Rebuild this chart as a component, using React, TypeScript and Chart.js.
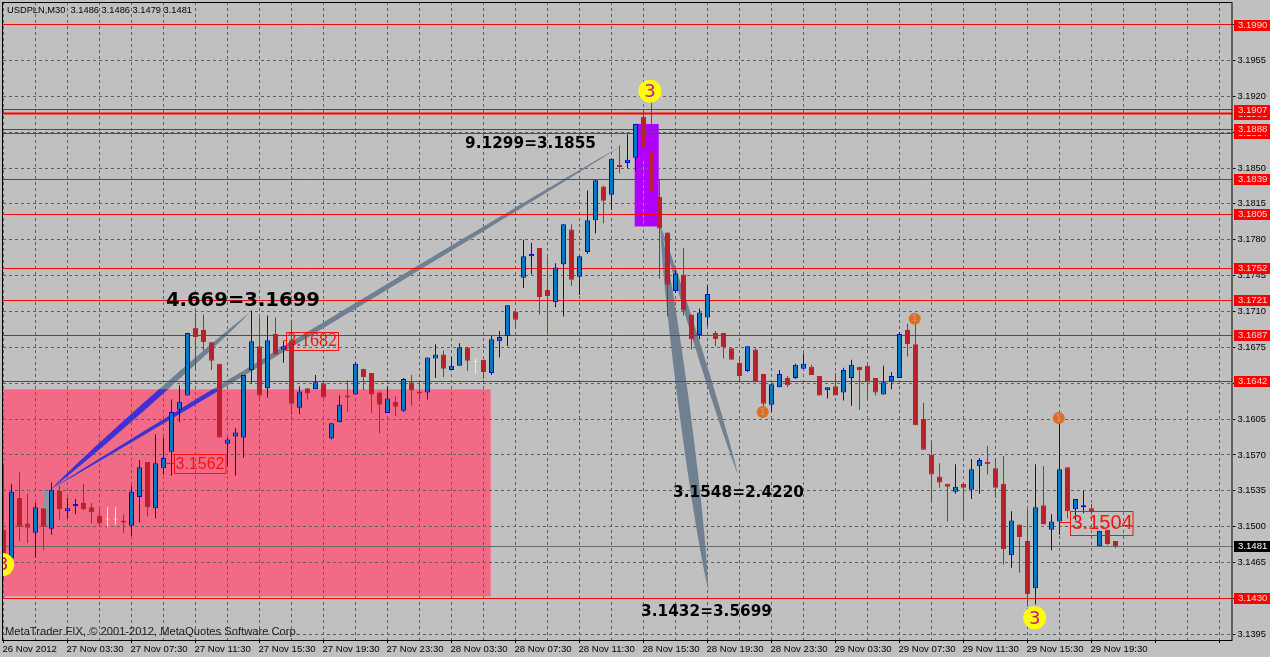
import React, { useEffect, useRef } from "react";
import { Chart, registerables } from "chart.js";

Chart.register(...registerables);

const symbolTitle = "USDPLN,M30  3.1486 3.1486 3.1479 3.1481";
const watermark = "MetaTrader FIX, © 2001-2012, MetaQuotes Software Corp.";

const opens = [
  3.1497,3.1469,3.1528,3.1503,3.1494,3.1518,3.1498,3.1535,3.1515,3.1520,
  3.1523,3.1519,3.1511,3.1507,3.1507,3.1506,3.1501,3.1529,3.1563,3.1518,
  3.1557,3.1573,3.1614,3.1628,3.1694,3.1692,3.1680,3.1659,3.1581,3.1588,
  3.1587,3.1653,3.1676,3.1635,3.1688,3.1673,3.1682,3.1616,3.1635,3.1634,
  3.1640,3.1586,3.1602,3.1628,3.1629,3.1654,3.1650,3.1631,3.1611,3.1622,
  3.1613,3.1641,3.1632,3.1631,3.1664,3.1668,3.1653,3.1657,3.1675,3.1661,
  3.1663,3.1650,3.1681,3.1686,3.1710,3.1743,3.1764,3.1772,3.1731,3.1719,
  3.1756,3.1790,3.1744,3.1768,3.1799,3.1832,3.1824,3.1853,3.1855,3.1860,
  3.1900,3.1866,3.1822,3.1787,3.1730,3.1746,3.1707,3.1687,3.1704,3.1689,
  3.1689,3.1674,3.1660,3.1652,3.1673,3.1649,3.1619,3.1636,3.1645,3.1645,
  3.1654,3.1656,3.1647,3.1633,3.1637,3.1631,3.1645,3.1656,3.1657,3.1645,
  3.1629,3.1642,3.1645,3.1692,3.1678,3.1605,3.1570,3.1549,3.1542,3.1534,
  3.1542,3.1536,3.1559,3.1563,3.1557,3.1542,3.1472,3.1502,3.1486,3.1440,
  3.1521,3.1497,3.1505,3.1558,3.1517,3.1519,3.1518,3.1481,3.1497,3.1486,
];
const closes = [
  3.1461,3.1534,3.1500,3.1499,3.1519,3.1500,3.1536,3.1517,3.1518,3.1522,
  3.1517,3.1514,3.1503,3.1507,3.1507,3.1504,3.1534,3.1558,3.1519,3.1562,
  3.1567,3.1612,3.1622,3.1689,3.1685,3.1680,3.1662,3.1587,3.1585,3.1592,
  3.1648,3.1681,3.1628,3.1682,3.1668,3.1676,3.1620,3.1632,3.1630,3.1641,
  3.1626,3.1601,3.1619,3.1626,3.1659,3.1646,3.1629,3.1619,3.1625,3.1617,
  3.1644,3.1633,3.1630,3.1665,3.1668,3.1654,3.1657,3.1675,3.1662,3.1661,
  3.1651,3.1683,3.1685,3.1716,3.1702,3.1764,3.1766,3.1724,3.1725,3.1753,
  3.1795,3.1741,3.1764,3.1799,3.1838,3.1818,3.1859,3.1851,3.1858,3.1893,
  3.1870,3.1826,3.1791,3.1736,3.1747,3.1711,3.1683,3.1709,3.1727,3.1683,
  3.1675,3.1663,3.1647,3.1676,3.1641,3.1620,3.1639,3.1649,3.1638,3.1658,
  3.1659,3.1648,3.1628,3.1636,3.1628,3.1653,3.1658,3.1653,3.1642,3.1631,
  3.1641,3.1647,3.1688,3.1678,3.1599,3.1575,3.1551,3.1543,3.1539,3.1539,
  3.1538,3.1556,3.1565,3.1561,3.1538,3.1478,3.1506,3.1490,3.1434,3.1519,
  3.1502,3.1505,3.1556,3.1515,3.1527,3.1521,3.1514,3.1496,3.1483,3.1481,
];
const highs = [
  3.1562,3.1542,3.1553,3.1532,3.1523,3.1518,3.1543,3.1540,3.1528,3.1527,
  3.1542,3.1523,3.1517,3.1519,3.1519,3.1512,3.1540,3.1565,3.1563,3.1590,
  3.1587,3.1624,3.1638,3.1689,3.1709,3.1707,3.1680,3.1659,3.1587,3.1596,
  3.1648,3.1711,3.1704,3.1706,3.1704,3.1681,3.1701,3.1637,3.1635,3.1648,
  3.1640,3.1601,3.1628,3.1643,3.1661,3.1654,3.1650,3.1632,3.1637,3.1627,
  3.1645,3.1648,3.1643,3.1665,3.1678,3.1672,3.1666,3.1679,3.1675,3.1664,
  3.1663,3.1686,3.1691,3.1716,3.1710,3.1780,3.1777,3.1772,3.1763,3.1757,
  3.1795,3.1795,3.1764,3.1828,3.1838,3.1833,3.1859,3.1872,3.1883,3.1893,
  3.1907,3.1914,3.1839,3.1787,3.1750,3.1772,3.1707,3.1713,3.1735,3.1691,
  3.1689,3.1674,3.1665,3.1676,3.1674,3.1649,3.1639,3.1653,3.1647,3.1659,
  3.1669,3.1658,3.1647,3.1636,3.1650,3.1655,3.1663,3.1656,3.1658,3.1645,
  3.1657,3.1651,3.1690,3.1698,3.1705,3.1621,3.1582,3.1562,3.1542,3.1561,
  3.1542,3.1566,3.1567,3.1579,3.1567,3.1569,3.1515,3.1502,3.1517,3.1561,
  3.1559,3.1512,3.1605,3.1558,3.1527,3.1535,3.1522,3.1496,3.1497,3.1486,
];
const lows = [
  3.1448,3.1456,3.1486,3.1484,3.1470,3.1477,3.1492,3.1507,3.1508,3.1512,
  3.1516,3.1503,3.1500,3.1500,3.1502,3.1494,3.1491,3.1504,3.1510,3.1508,
  3.1551,3.1550,3.1602,3.1628,3.1653,3.1672,3.1653,3.1587,3.1559,3.1550,
  3.1567,3.1640,3.1623,3.1626,3.1668,3.1660,3.1609,3.1610,3.1624,3.1634,
  3.1626,3.1585,3.1602,3.1612,3.1629,3.1633,3.1611,3.1591,3.1611,3.1608,
  3.1612,3.1618,3.1623,3.1624,3.1645,3.1646,3.1653,3.1657,3.1652,3.1649,
  3.1644,3.1648,3.1665,3.1676,3.1693,3.1733,3.1746,3.1707,3.1689,3.1714,
  3.1705,3.1735,3.1726,3.1766,3.1786,3.1796,3.1809,3.1845,3.1850,3.1847,
  3.1859,3.1795,3.1742,3.1705,3.1728,3.1706,3.1673,3.1683,3.1696,3.1676,
  3.1664,3.1663,3.1642,3.1651,3.1641,3.1615,3.1612,3.1636,3.1636,3.1644,
  3.1654,3.1648,3.1628,3.1625,3.1628,3.1623,3.1618,3.1614,3.1625,3.1628,
  3.1629,3.1634,3.1645,3.1666,3.1599,3.1575,3.1523,3.1538,3.1505,3.1532,
  3.1506,3.1527,3.1532,3.1551,3.1528,3.1463,3.1460,3.1455,3.1422,3.1424,
  3.1502,3.1477,3.1492,3.1508,3.1506,3.1513,3.1514,3.1481,3.1482,3.1479,
];

const barsPerTimeLabel = 8;
const barsPerGridLine = 4;
const timeLabels = [
  "26 Nov 2012","27 Nov 03:30","27 Nov 07:30","27 Nov 11:30","27 Nov 15:30","27 Nov 19:30",
  "27 Nov 23:30","28 Nov 03:30","28 Nov 07:30","28 Nov 11:30","28 Nov 15:30","28 Nov 19:30",
  "28 Nov 23:30","29 Nov 03:30","29 Nov 07:30","29 Nov 11:30","29 Nov 15:30","29 Nov 19:30",
];
const priceTicks = [
  3.1395,3.143,3.1465,3.15,3.1535,3.157,3.1605,3.164,3.1675,3.171,3.1745,3.178,3.1815,3.185,3.1885,3.192,3.1955,3.199,
];
const redLevels = [3.199,3.1907,3.1903,3.1888,3.1884,3.1839,3.1805,3.1752,3.1721,3.1687,3.1642,3.143];
const thickLevels = [3.1903];
const currentPrice = 3.1481;

const pinkZone = { fromBar: -1, toBar: 60.9, top: 3.1634, bottom: 3.1432 };
const purpleZone = { fromBar: 78.9, toBar: 81.9, top: 3.1893, bottom: 3.1793 };
const slateZone = { fromBar: 5, toBar: 5.75, top: 3.1536, bottom: 3.15 };

const trendWedges = [
  { fromBar: 6, fromPrice: 3.1537, toBar: 30.8, toPrice: 3.1709, thick: 6 },
  { fromBar: 6, fromPrice: 3.1537, toBar: 77.1, toPrice: 3.1871, thick: 5 },
  { fromBar: 82.1, fromPrice: 3.1794, toBar: 88.1, toPrice: 3.1438, thick: 11 },
  { fromBar: 82.1, fromPrice: 3.1794, toBar: 91.8, toPrice: 3.1551, thick: 6 },
];
const boldNotes = [
  { text: "4.669=3.1699", bar: 20.3, price: 3.172, size: 19.6 },
  { text: "9.1299=3.1855", bar: 57.7, price: 3.1873, size: 15.3 },
  { text: "3.1548=2.4220", bar: 83.7, price: 3.1533, size: 15.3 },
  { text: "3.1432=3.5699", bar: 79.7, price: 3.1417, size: 15.3 },
];
const priceBoxes = [
  { text: "3.1562", bar: 20, price: 3.1562, fromBar: 21.3, width: 51.5, height: 19, font: "16px 'Liberation Sans'" },
  { text: "3.1682", bar: 35, price: 3.1682, fromBar: 35.3, width: 52, height: 18, font: "18px 'Liberation Serif'" },
  { text: "3.1504", bar: 132, price: 3.1504, fromBar: 133.3, width: 62.5, height: 24, font: "20px 'Liberation Sans'" },
];
const waveThrees = [
  { bar: 80.8, price: 3.1925 },
  { bar: 128.9, price: 3.1411 },
  { bar: -0.1, price: 3.1463 },
];
const orangeMarks = [
  { bar: 113.9, price: 3.1703 },
  { bar: 94.9, price: 3.1612 },
  { bar: 131.9, price: 3.1606 },
];

const BLUE_EDGE = "#0000e8";
const BLUE_FILL = "#0078c8";
const RED_BODY = "#bc202e";
const RED_WICK = "#d0143c";
const CREAM = "#ffe8c8";
const LINE_RED = "#ee0808";

const lens = (ctx: CanvasRenderingContext2D, x0: number, y0: number, x1: number, y1: number, t: number) => {
  const dx = x1 - x0, dy = y1 - y0;
  const len = Math.hypot(dx, dy);
  const nx = (-dy / len) * t * 0.667, ny = (dx / len) * t * 0.667;
  const ax = x0 + dx * 0.2, ay = y0 + dy * 0.2, bx = x0 + dx * 0.8, by = y0 + dy * 0.8;
  ctx.beginPath();
  ctx.moveTo(x0, y0);
  ctx.bezierCurveTo(ax + nx, ay + ny, bx + nx, by + ny, x1, y1);
  ctx.bezierCurveTo(bx - nx, by - ny, ax - nx, ay - ny, x0, y0);
  ctx.closePath();
};

const overlay = {
  id: "overlay",
  beforeDraw(chart: any) {
    const { ctx, chartArea: a, scales: { x, y } } = chart;
    ctx.save();
    ctx.fillStyle = "#c0c0c0";
    ctx.fillRect(0, 0, 1270, 657);
    ctx.beginPath();
    ctx.rect(a.left, a.top, a.right - a.left, a.bottom - a.top);
    ctx.clip();
    const zone = (z: any, color: string) => {
      const l = x.getPixelForValue(z.fromBar), r = x.getPixelForValue(z.toBar);
      const t = y.getPixelForValue(z.top), b = y.getPixelForValue(z.bottom);
      ctx.fillStyle = color;
      ctx.fillRect(l, t, r - l, b - t);
      return { l, r, t, b };
    };
    const zones = [zone(pinkZone, "#f26a86"), zone(purpleZone, "#b000ff")];
    zone(slateZone, "#8a97a8");
    ctx.strokeStyle = "#78b050";
    ctx.lineWidth = 1;
    x.ticks.forEach((tk: any) => {
      const px = Math.round(x.getPixelForValue(tk.value) - 0.5) + 0.5;
      zones.forEach((z) => {
        if (px > z.l && px < z.r) {
          ctx.beginPath();
          ctx.moveTo(px, z.t);
          ctx.lineTo(px, z.b);
          ctx.stroke();
        }
      });
    });
    ctx.restore();
  },
  beforeDatasetsDraw(chart: any) {
    const { ctx, chartArea: a, scales: { x, y } } = chart;
    ctx.save();
    ctx.beginPath();
    ctx.rect(a.left, a.top, a.right - a.left, a.bottom - a.top);
    ctx.clip();
    const pl = x.getPixelForValue(pinkZone.fromBar), pr = x.getPixelForValue(pinkZone.toBar);
    const pt = y.getPixelForValue(pinkZone.top), pb = y.getPixelForValue(pinkZone.bottom);
    trendWedges.forEach((w) => {
      const x0 = x.getPixelForValue(w.fromBar), y0 = y.getPixelForValue(w.fromPrice);
      const x1 = x.getPixelForValue(w.toBar), y1 = y.getPixelForValue(w.toPrice);
      lens(ctx, x0, y0, x1, y1, w.thick);
      ctx.fillStyle = "#708090";
      ctx.fill();
      ctx.save();
      ctx.beginPath();
      ctx.rect(pl, pt, pr - pl, pb - pt);
      ctx.clip();
      lens(ctx, x0, y0, x1, y1, w.thick);
      ctx.fillStyle = "#4030d4";
      ctx.fill();
      ctx.restore();
    });
    redLevels.forEach((lv) => {
      const py = Math.round(y.getPixelForValue(lv) - 0.5) + 0.5;
      const thick = thickLevels.includes(lv);
      ctx.strokeStyle = thick ? "#ff0000" : LINE_RED;
      ctx.lineWidth = thick ? 2 : 1;
      ctx.beginPath();
      ctx.moveTo(a.left, py);
      ctx.lineTo(a.right, py);
      ctx.stroke();
    });
    const cy = Math.round(y.getPixelForValue(currentPrice) - 0.5) + 0.5;
    ctx.strokeStyle = "#6a6a6a";
    ctx.lineWidth = 1;
    ctx.beginPath();
    ctx.moveTo(a.left, cy);
    ctx.lineTo(a.right, cy);
    ctx.stroke();
    ctx.restore();
  },
  afterDatasetsDraw(chart: any) {
    const { ctx, chartArea: a, scales: { x, y } } = chart;
    ctx.save();
    ctx.beginPath();
    ctx.rect(a.left, a.top, a.right - a.left, a.bottom - a.top);
    ctx.clip();
    ctx.textBaseline = "middle";
    ctx.textAlign = "left";
    boldNotes.forEach((n) => {
      ctx.fillStyle = "#000";
      ctx.font = `bold ${n.size}px 'DejaVu Sans'`;
      ctx.fillText(n.text, x.getPixelForValue(n.bar), y.getPixelForValue(n.price));
    });
    priceBoxes.forEach((b) => {
      const py = Math.round(y.getPixelForValue(b.price) - 0.5) + 0.5;
      const cx = x.getPixelForValue(b.bar);
      const left = Math.round(x.getPixelForValue(b.fromBar)) + 0.5;
      ctx.strokeStyle = "#ff1010";
      ctx.lineWidth = 1;
      ctx.beginPath();
      ctx.moveTo(cx, py);
      ctx.lineTo(left, py);
      ctx.stroke();
      ctx.strokeRect(left, Math.round(py - b.height / 2) + 0.5, b.width, b.height);
      ctx.fillStyle = "#ff1010";
      ctx.font = b.font;
      ctx.fillText(b.text, left + 1, py + 1);
    });
    ctx.textAlign = "center";
    waveThrees.forEach((c) => {
      const px = x.getPixelForValue(c.bar), py = y.getPixelForValue(c.price);
      ctx.fillStyle = "#ffff00";
      ctx.beginPath();
      ctx.arc(px, py, 11.5, 0, Math.PI * 2);
      ctx.fill();
      ctx.fillStyle = "#c8108c";
      ctx.font = "18px 'DejaVu Sans'";
      ctx.fillText("3", px, py + 1);
    });
    orangeMarks.forEach((c) => {
      const px = x.getPixelForValue(c.bar), py = y.getPixelForValue(c.price);
      ctx.fillStyle = "#dc7020";
      ctx.beginPath();
      ctx.arc(px, py, 6, 0, Math.PI * 2);
      ctx.fill();
      ctx.fillStyle = "#d89090";
      ctx.font = "9px 'DejaVu Sans'";
      ctx.fillText("1", px, py + 0.5);
    });
    ctx.textAlign = "left";
    ctx.fillStyle = "#202020";
    ctx.font = "11.2px 'Liberation Sans'";
    ctx.fillText(watermark, 5, 632);
    ctx.fillStyle = "#000";
    ctx.font = "9.3px 'Liberation Sans'";
    ctx.fillText(symbolTitle, 7, 10.5);
    ctx.restore();
  },
  afterDraw(chart: any) {
    const { ctx, chartArea: a, scales: { y } } = chart;
    ctx.save();
    ctx.strokeStyle = "#000";
    ctx.lineWidth = 1;
    ctx.strokeRect(2.5, 2.5, a.right - 3, a.bottom - 2);
    ctx.textBaseline = "middle";
    ctx.textAlign = "left";
    ctx.font = "9.6px 'Liberation Sans'";
    const tag = (v: number, bg: string, fg: string) => {
      const py = Math.round(y.getPixelForValue(v));
      ctx.fillStyle = bg;
      ctx.fillRect(1234, py - 5, 36, 11);
      ctx.fillStyle = fg;
      ctx.fillText(v.toFixed(4), 1238, py + 0.5);
    };
    redLevels.slice().sort((p, q) => q - p).forEach((lv) => tag(lv, "#ff0000", "#ffd8d8"));
    ["3.1907", "3.1888"].forEach((s) => tag(Number(s), "#ff0000", "#ffd8d8"));
    tag(currentPrice, "#000000", "#ffffff");
    ctx.restore();
  },
};

export default function App() {
  const ref = useRef<HTMLCanvasElement>(null);
  useEffect(() => {
    const bars = opens.map((_, i) => i);
    const fillOf = (i: number) => (closes[i] > opens[i] ? BLUE_FILL : closes[i] < opens[i] ? RED_BODY : CREAM);
    const edgeOf = (i: number) => (closes[i] > opens[i] ? BLUE_EDGE : closes[i] < opens[i] ? RED_BODY : CREAM);
    const wickOf = (i: number) => (closes[i] > opens[i] ? BLUE_EDGE : closes[i] < opens[i] ? RED_WICK : CREAM);
    const chart = new Chart(ref.current as HTMLCanvasElement, {
      type: "bar",
      data: {
        datasets: [
          {
            label: "body",
            data: bars.map((i) => ({ x: i, y: [opens[i], closes[i]] })),
            backgroundColor: bars.map(fillOf),
            borderColor: bars.map(edgeOf),
            borderWidth: 1,
            borderSkipped: false,
            inflateAmount: 0,
            barThickness: 5,
            minBarLength: 1,
            grouped: false,
          },
          {
            label: "wick",
            data: bars.map((i) => ({ x: i, y: [lows[i], highs[i]] })),
            backgroundColor: bars.map(wickOf),
            borderWidth: 0,
            inflateAmount: 0,
            barThickness: 1,
            grouped: false,
          },
        ] as any,
      },
      options: {
        responsive: false,
        devicePixelRatio: 1,
        animation: false,
        layout: { padding: { left: 3, top: 2, right: 0, bottom: 0 } },
        plugins: { legend: { display: false }, tooltip: { enabled: false }, title: { display: false } },
        scales: {
          x: {
            type: "linear",
            offset: false,
            min: -0.0625,
            max: 153.625,
            afterFit: (s: any) => { s.height = 17; s.paddingLeft = 0; s.paddingRight = 0; },
            afterBuildTicks: (s: any) => {
              const t = [];
              for (let b = 0; b <= 152; b += barsPerGridLine) t.push({ value: b });
              s.ticks = t;
            },
            border: { display: false, dash: [3, 3] },
            grid: {
              offset: false,
              color: "#606060",
              tickLength: 3,
              tickBorderDash: [],
              tickColor: (c: any) => (c.tick && c.tick.value % barsPerTimeLabel === 0 ? "#000" : "rgba(0,0,0,0)"),
            } as any,
            ticks: {
              autoSkip: false,
              maxRotation: 0,
              minRotation: 0,
              align: "start",
              padding: 1,
              labelOffset: -1,
              color: "#000",
              font: { family: "'Liberation Sans'", size: 9.6 },
              callback: (v: any) => (v % barsPerTimeLabel === 0 ? timeLabels[v / barsPerTimeLabel] ?? "" : ""),
            } as any,
          },
          y: {
            position: "right",
            min: 3.13894,
            max: 3.2012,
            afterFit: (s: any) => { s.width = 37.5; s.paddingTop = 0; s.paddingBottom = 0; },
            afterBuildTicks: (s: any) => { s.ticks = priceTicks.map((value) => ({ value })); },
            border: { display: false, dash: [3, 3] },
            grid: { color: "#606060", tickLength: 3, tickBorderDash: [], tickColor: "#000" } as any,
            ticks: {
              padding: 2,
              color: "#000",
              font: { family: "'Liberation Sans'", size: 9.3 },
              callback: (v: any) => Number(v).toFixed(4),
            },
          },
        },
      } as any,
      plugins: [overlay as any],
    });
    return () => chart.destroy();
  }, []);
  return (
    <div style={{ position: "absolute", left: 0, top: 0, width: 1270, height: 657, overflow: "hidden" }}>
      <canvas ref={ref} width={1270} height={657} style={{ display: "block" }} />
    </div>
  );
}
